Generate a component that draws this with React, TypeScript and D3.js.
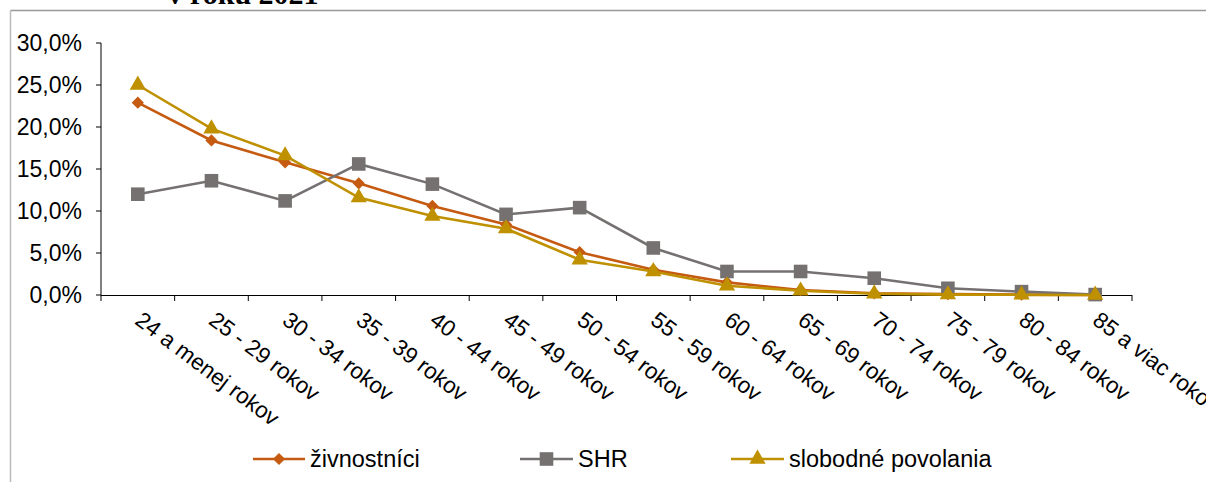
import React from "react";
import * as d3 from "d3";

const categories = [
  "24 a menej rokov", "25 - 29 rokov", "30 - 34 rokov", "35 - 39 rokov",
  "40 - 44 rokov", "45 - 49 rokov", "50 - 54 rokov", "55 - 59 rokov",
  "60 - 64 rokov", "65 - 69 rokov", "70 - 74 rokov", "75 - 79 rokov",
  "80 - 84 rokov", "85 a viac rokov",
];
const zivnostnici = [22.9, 18.4, 15.8, 13.3, 10.6, 8.4, 5.1, 3.0, 1.5, 0.6, 0.2, 0.1, 0.05, 0.0];
const shr = [12.0, 13.6, 11.2, 15.6, 13.2, 9.6, 10.4, 5.6, 2.8, 2.8, 2.0, 0.8, 0.4, 0.05];
const slobodne = [25.0, 19.8, 16.6, 11.6, 9.4, 7.9, 4.2, 2.8, 1.1, 0.5, 0.15, 0.05, 0.02, 0.0];
const yTicks = [0, 5, 10, 15, 20, 25, 30];
const seriesNames = ["živnostníci", "SHR", "slobodné povolania"];
const title = "v roku 2021";

const W = 1206, H = 482;
const FONT = "'Liberation Sans', Arial, sans-serif";

export default function App() {
  const x = d3.scaleBand<string>().domain(categories).range([101, 1132]);
  const y = d3.scaleLinear().domain([0, 30]).range([295, 43]);
  const line = d3.line<number>()
    .x((_, i) => (x(categories[i]) as number) + x.bandwidth() / 2)
    .y((d) => y(d));

  const series = [
    { name: seriesNames[0], data: zivnostnici, color: "#C55A11", marker: "diamond" },
    { name: seriesNames[1], data: shr, color: "#767171", marker: "square" },
    { name: seriesNames[2], data: slobodne, color: "#BF9000", marker: "triangle" },
  ];

  const markerPath = (m: string) => {
    if (m === "diamond") return d3.symbol(d3.symbolDiamond2, 95)() as string;
    if (m === "square") return d3.symbol(d3.symbolSquare, 185)() as string;
    return d3.symbol(d3.symbolTriangle, 115)() as string;
  };

  const fmt = (v: number) => v.toFixed(1).replace(".", ",") + "%";
  const legendPos = [
    { x1: 253, x2: 305, tx: 310 },
    { x1: 520, x2: 573, tx: 578 },
    { x1: 731, x2: 784, tx: 789 },
  ];
  const ticksX = d3.range(categories.length + 1).map((i) => 101 + i * x.step());

  return (
    <svg width={W} height={H} style={{ position: "absolute", left: 0, top: 0, background: "#fff" }}>
      <rect x={0} y={0} width={W} height={H} fill="#fff" />
      <text x={243} y={4} textAnchor="middle" fontFamily="'Liberation Serif', 'Times New Roman', serif"
        fontWeight="bold" fontSize={30} fill="#000">{title}</text>
      <line x1={10.5} y1={10.5} x2={W} y2={10.5} stroke="#999" strokeWidth={1.5} />
      <line x1={10.5} y1={10.5} x2={10.5} y2={H} stroke="#bbb" strokeWidth={1.5} />

      {/* y axis */}
      <line x1={101} y1={43} x2={101} y2={295} stroke="#000" strokeWidth={1} />
      {yTicks.map((t) => (
        <g key={t}>
          <line x1={96} x2={101} y1={y(t)} y2={y(t)} stroke="#000" />
          <text x={82} y={y(t)} dy="0.36em" textAnchor="end" fontFamily={FONT} fontSize={23} fill="#000">{fmt(t)}</text>
        </g>
      ))}
      {/* x axis */}
      <line x1={101} y1={295.5} x2={1132} y2={295.5} stroke="#000" strokeWidth={1} />
      {ticksX.map((tx, i) => (
        <line key={i} x1={tx} x2={tx} y1={295} y2={301} stroke="#000" />
      ))}
      {categories.map((c) => {
        const cx = (x(c) as number) + x.bandwidth() / 2;
        return (
          <text key={c} transform={`translate(${cx - 4},${323}) rotate(37)`} fontFamily={FONT}
            fontSize={22.5} fill="#000">{c}</text>
        );
      })}

      {series.map((s) => (
        <g key={s.name}>
          <path d={line(s.data) as string} fill="none" stroke={s.color} strokeWidth={2.6} />
          {s.data.map((v, i) => (
            <path key={i} d={markerPath(s.marker)} fill={s.color}
              transform={`translate(${(x(categories[i]) as number) + x.bandwidth() / 2},${y(v)})`} />
          ))}
        </g>
      ))}

      {series.map((s, i) => {
        const p = legendPos[i];
        const ly = 459;
        return (
          <g key={s.name}>
            <line x1={p.x1} x2={p.x2} y1={ly} y2={ly} stroke={s.color} strokeWidth={2.6} />
            <path d={markerPath(s.marker)} fill={s.color} transform={`translate(${(p.x1 + p.x2) / 2},${ly})`} />
            <text x={p.tx} y={467} fontFamily={FONT} fontSize={23.5} fill="#000">{s.name}</text>
          </g>
        );
      })}
    </svg>
  );
}
